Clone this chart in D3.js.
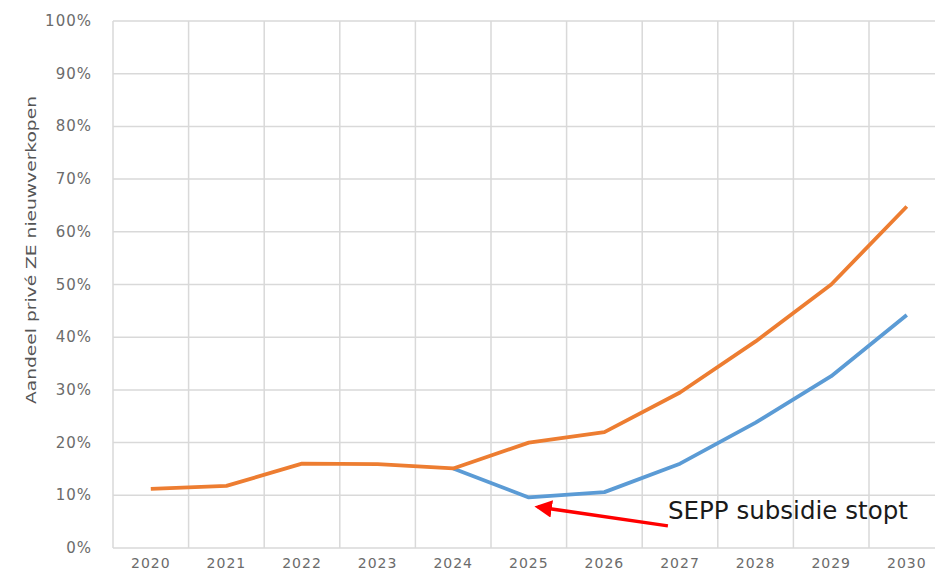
<!DOCTYPE html>
<html>
<head>
<meta charset="utf-8">
<script src="https://cdn.jsdelivr.net/npm/d3@7"></script>
<style>
    body { margin: 0; background: #fff; overflow: hidden; }
    text { font-family: "DejaVu Sans", sans-serif; }
</style>
</head>
<body>
<div id="lineChart"></div>
<script>
// Chart data
const years = [2020, 2021, 2022, 2023, 2024, 2025, 2026, 2027, 2028, 2029, 2030];
const withSepp = [11.2, 11.8, 16.0, 15.9, 15.1, 20.0, 22.0, 29.5, 39.2, 50.0, 64.8];
const withoutSepp = [null, null, null, null, 15.1, 9.6, 10.6, 16.0, 23.8, 32.6, 44.2];
const yTicks = [0, 10, 20, 30, 40, 50, 60, 70, 80, 90, 100];
const yTitle = 'Aandeel privé ZE nieuwverkopen';
const noteText = 'SEPP subsidie stopt';
// annotation anchors in data units (year, percent)
const noteArrow = [[2026.84, 4.2], [2025.12, 7.8]];
const notePos = [2026.84, 5.5];

const width = 935, height = 573;
const plotLeft = 113, plotTop = 21, plotW = 831.6, plotH = 527;

const svg = d3.select('#lineChart').append('svg')
    .attr('width', width)
    .attr('height', height);

const x = d3.scaleBand().domain(years).range([plotLeft, plotLeft + plotW]);
const xc = d => x(d) + x.bandwidth() / 2;
const xYear = d3.scaleLinear()
    .domain([years[0] - 0.5, years[years.length - 1] + 0.5])
    .range([plotLeft, plotLeft + plotW]);
const y = d3.scaleLinear().domain([0, 100]).range([plotTop + plotH, plotTop]);

// Gridlines
const grid = svg.append('g').attr('class', 'grid');
grid.selectAll('line.h').data(yTicks).enter().append('line')
    .attr('class', 'h')
    .attr('x1', plotLeft).attr('x2', plotLeft + plotW)
    .attr('y1', d => y(d)).attr('y2', d => y(d))
    .attr('stroke', '#d9d9d9').attr('stroke-width', 1.5);
grid.selectAll('line.v').data(years.concat(['end'])).enter().append('line')
    .attr('class', 'v')
    .attr('x1', d => d === 'end' ? plotLeft + plotW : x(d))
    .attr('x2', d => d === 'end' ? plotLeft + plotW : x(d))
    .attr('y1', plotTop).attr('y2', plotTop + plotH)
    .attr('stroke', '#d9d9d9').attr('stroke-width', 1.5);

// Y axis labels
svg.append('g').selectAll('text').data(yTicks).enter().append('text')
    .attr('x', 92)
    .attr('y', d => y(d) + 5)
    .attr('text-anchor', 'end')
    .attr('fill', '#6b6b6b')
    .attr('font-size', 15)
    .attr('letter-spacing', 1)
    .text(d => d + '%');

// X axis labels
svg.append('g').selectAll('text').data(years).enter().append('text')
    .attr('x', xc)
    .attr('y', plotTop + plotH + 20)
    .attr('text-anchor', 'middle')
    .attr('fill', '#6b6b6b')
    .attr('font-size', 14)
    .attr('letter-spacing', 1)
    .text(d => d);

// Y title
svg.append('text')
    .attr('transform', `translate(36, 250) rotate(-90)`)
    .attr('text-anchor', 'middle')
    .attr('fill', '#555')
    .attr('font-size', 14)
    .attr('textLength', 308)
    .attr('lengthAdjust', 'spacingAndGlyphs')
    .text(yTitle);

// Lines
const line = d3.line()
    .defined(d => d.v !== null)
    .x(d => xc(d.year))
    .y(d => y(d.v));

const toPoints = arr => years.map((year, i) => ({ year, v: arr[i] }));

svg.append('path')
    .datum(toPoints(withoutSepp))
    .attr('d', line)
    .attr('fill', 'none')
    .attr('stroke', '#5b9bd5')
    .attr('stroke-width', 3.8)
    .attr('stroke-linejoin', 'round');

svg.append('path')
    .datum(toPoints(withSepp))
    .attr('d', line)
    .attr('fill', 'none')
    .attr('stroke', '#ed7d31')
    .attr('stroke-width', 3.8)
    .attr('stroke-linejoin', 'round');

// Annotation
svg.append('defs').append('marker')
    .attr('id', 'arrowHead')
    .attr('viewBox', '0 0 10 10')
    .attr('refX', 8).attr('refY', 5)
    .attr('markerWidth', 5).attr('markerHeight', 5)
    .attr('orient', 'auto')
    .append('path')
    .attr('d', 'M0,0 L10,5 L0,10 z')
    .attr('fill', '#ff0000');

svg.append('line')
    .attr('x1', xYear(noteArrow[0][0])).attr('y1', y(noteArrow[0][1]))
    .attr('x2', xYear(noteArrow[1][0])).attr('y2', y(noteArrow[1][1]))
    .attr('stroke', '#ff0000')
    .attr('stroke-width', 3.5)
    .attr('marker-end', 'url(#arrowHead)');

svg.append('text')
    .attr('x', xYear(notePos[0]))
    .attr('y', y(notePos[1]))
    .attr('fill', '#1a1a1a')
    .attr('font-family', '"Open Sans", sans-serif')
    .attr('font-size', 25)
    .attr('textLength', 240)
    .attr('lengthAdjust', 'spacingAndGlyphs')
    .text(noteText);
</script>
</body>
</html>
